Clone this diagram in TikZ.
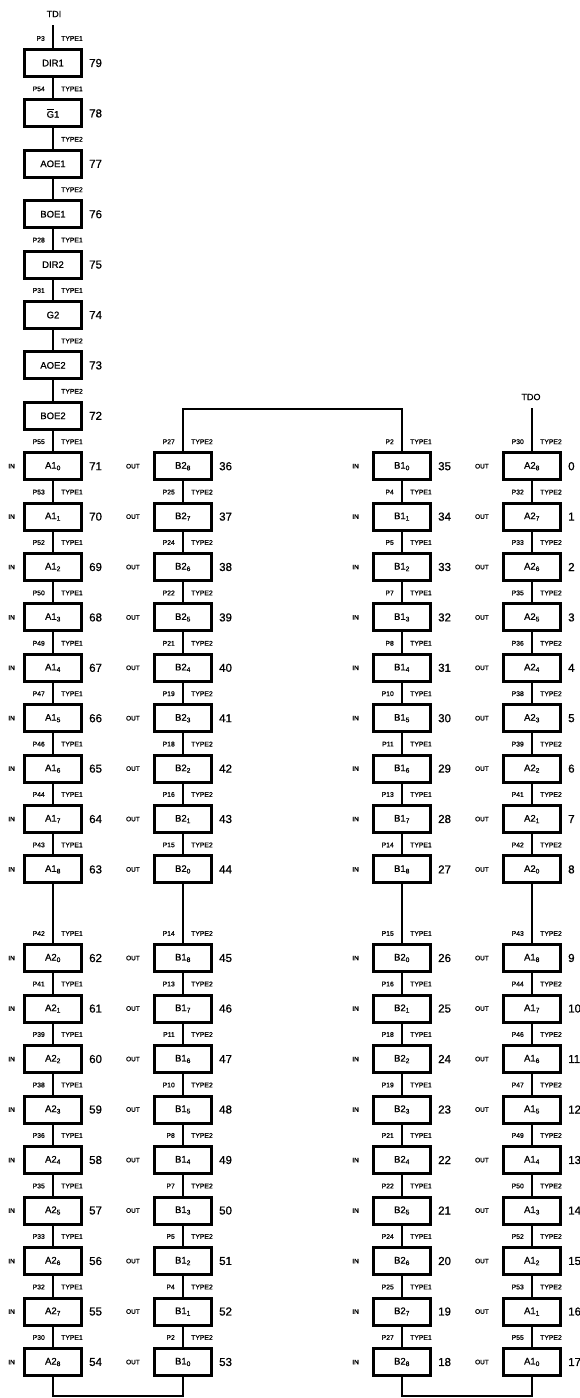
\documentclass[tikz,border=0pt]{standalone}
\usepackage{fontspec}
\setmainfont{Liberation Sans}[FakeBold=0.8]
\usetikzlibrary{calc}

\tikzset{
  cellbox/.style={draw, line width=3pt, minimum width=57pt, minimum height=27pt,
    inner sep=0pt, font=\fontsize{9.5}{10}\selectfont},
  wire/.style={line width=1.8pt, line join=miter},
  tag/.style={inner sep=0pt, font=\fontsize{6.8}{7}\selectfont},
  num/.style={inner sep=0pt, anchor=west, font=\fontsize{11.5}{12}\selectfont},
  iotag/.style={inner sep=0pt, anchor=east, font=\fontsize{6.5}{7}\selectfont},
  termtag/.style={inner sep=0pt, font=\fontsize{9}{10}\selectfont},
}

% one scan cell: name, x, y, text, pin, type, number, direction
\newcommand{\cell}[8]{%
  \node[cellbox] (#1) at (#2,#3) {#4};
  \node[num] (#1-n) at ([xshift=6pt]#1.east) {#7};
  \node[tag, anchor=east] (#1-p) at ([xshift=-8pt,yshift=9.5pt]#1.north) {#5};
  \node[tag, anchor=west] (#1-t) at ([xshift=8pt,yshift=9.5pt]#1.north) {#6};
  \node[iotag] (#1-io) at ([xshift=-\iogap]#1.west) {#8};
}

\begin{document}
\begin{tikzpicture}[x=1pt, y=-1pt]
\useasboundingbox (0,0) rectangle (580,1398);

% ---------------- column 1 ----------------
\def\iogap{8pt}
\node[termtag] (tdi) at (54,14) {TDI};
\coordinate (tdiend) at (53,25);
\cell{c1h0}{53}{63}{DIR1}{P3}{TYPE1}{79}{}
\cell{c1h1}{53}{113.4}{$\overline{\mbox{G}}$1}{P54}{TYPE1}{78}{}
\cell{c1h2}{53}{163.8}{AOE1}{}{TYPE2}{77}{}
\cell{c1h3}{53}{214.2}{BOE1}{}{TYPE2}{76}{}
\cell{c1h4}{53}{264.6}{DIR2}{P28}{TYPE1}{75}{}
\cell{c1h5}{53}{315}{G2}{P31}{TYPE1}{74}{}
\cell{c1h6}{53}{365.4}{AOE2}{}{TYPE2}{73}{}
\cell{c1h7}{53}{415.8}{BOE2}{}{TYPE2}{72}{}
\foreach \i/\p in {0/55,1/53,2/52,3/50,4/49,5/47,6/46,7/44,8/43}{
  \pgfmathsetmacro\yy{466.2+50.4*\i}
  \pgfmathtruncatemacro\nn{71-\i}
  \cell{c1u\i}{53}{\yy}{A1\textsubscript{\i}}{P\p}{TYPE1}{\nn}{IN}
}
\foreach \i/\p in {0/42,1/41,2/39,3/38,4/36,5/35,6/33,7/32,8/30}{
  \pgfmathsetmacro\yy{958+50.5*\i}
  \pgfmathtruncatemacro\nn{62-\i}
  \cell{c1d\i}{53}{\yy}{A2\textsubscript{\i}}{P\p}{TYPE1}{\nn}{IN}
}

% ---------------- column 2 ----------------
\def\iogap{13pt}
\foreach \i/\p in {0/27,1/25,2/24,3/22,4/21,5/19,6/18,7/16,8/15}{
  \pgfmathsetmacro\yy{466.2+50.4*\i}
  \pgfmathtruncatemacro\nn{36+\i}
  \pgfmathtruncatemacro\kk{8-\i}
  \cell{c2u\i}{183}{\yy}{B2\textsubscript{\kk}}{P\p}{TYPE2}{\nn}{OUT}
}
\foreach \i/\p in {0/14,1/13,2/11,3/10,4/8,5/7,6/5,7/4,8/2}{
  \pgfmathsetmacro\yy{958+50.5*\i}
  \pgfmathtruncatemacro\nn{45+\i}
  \pgfmathtruncatemacro\kk{8-\i}
  \cell{c2d\i}{183}{\yy}{B1\textsubscript{\kk}}{P\p}{TYPE2}{\nn}{OUT}
}

% ---------------- column 3 ----------------
\foreach \i/\p in {0/2,1/4,2/5,3/7,4/8,5/10,6/11,7/13,8/14}{
  \pgfmathsetmacro\yy{466.2+50.4*\i}
  \pgfmathtruncatemacro\nn{35-\i}
  \cell{c3u\i}{402}{\yy}{B1\textsubscript{\i}}{P\p}{TYPE1}{\nn}{IN}
}
\foreach \i/\p in {0/15,1/16,2/18,3/19,4/21,5/22,6/24,7/25,8/27}{
  \pgfmathsetmacro\yy{958+50.5*\i}
  \pgfmathtruncatemacro\nn{26-\i}
  \cell{c3d\i}{402}{\yy}{B2\textsubscript{\i}}{P\p}{TYPE1}{\nn}{IN}
}

% ---------------- column 4 ----------------
\node[termtag] (tdo) at (531,397) {TDO};
\coordinate (tdoend) at (532,408);
\foreach \i/\p in {0/30,1/32,2/33,3/35,4/36,5/38,6/39,7/41,8/42}{
  \pgfmathsetmacro\yy{466.2+50.4*\i}
  \pgfmathtruncatemacro\kk{8-\i}
  \cell{c4u\i}{532}{\yy}{A2\textsubscript{\kk}}{P\p}{TYPE2}{\i}{OUT}
}
\foreach \i/\p in {0/43,1/44,2/46,3/47,4/49,5/50,6/52,7/53,8/55}{
  \pgfmathsetmacro\yy{958+50.5*\i}
  \pgfmathtruncatemacro\nn{9+\i}
  \pgfmathtruncatemacro\kk{8-\i}
  \cell{c4d\i}{532}{\yy}{A1\textsubscript{\kk}}{P\p}{TYPE2}{\nn}{OUT}
}

% ---------------- scan path ----------------
\draw[wire] (tdiend) -- (c1h0.north);
\foreach \a/\b in {0/1,1/2,2/3,3/4,4/5,5/6,6/7}
  \draw[wire] (c1h\a.south) -- (c1h\b.north);
\draw[wire] (c1h7.south) -- (c1u0.north);
\foreach \c in {1,2,3,4}{
  \foreach \a/\b in {0/1,1/2,2/3,3/4,4/5,5/6,6/7,7/8}{
    \draw[wire] (c\c u\a.south) -- (c\c u\b.north);
    \draw[wire] (c\c d\a.south) -- (c\c d\b.north);
  }
  \draw[wire] (c\c u8.south) -- (c\c d0.north);
}
\coordinate (botA) at (118,1396);
\coordinate (topB) at (292,409);
\coordinate (botC) at (467,1396);
\draw[wire] (c1d8.south) |- (botA) -| (c2d8.south);
\draw[wire] (c2u0.north) |- (topB) -| (c3u0.north);
\draw[wire] (c3d8.south) |- (botC) -| (c4d8.south);
\draw[wire] (tdoend) -- (c4u0.north);
\end{tikzpicture}
\end{document}
